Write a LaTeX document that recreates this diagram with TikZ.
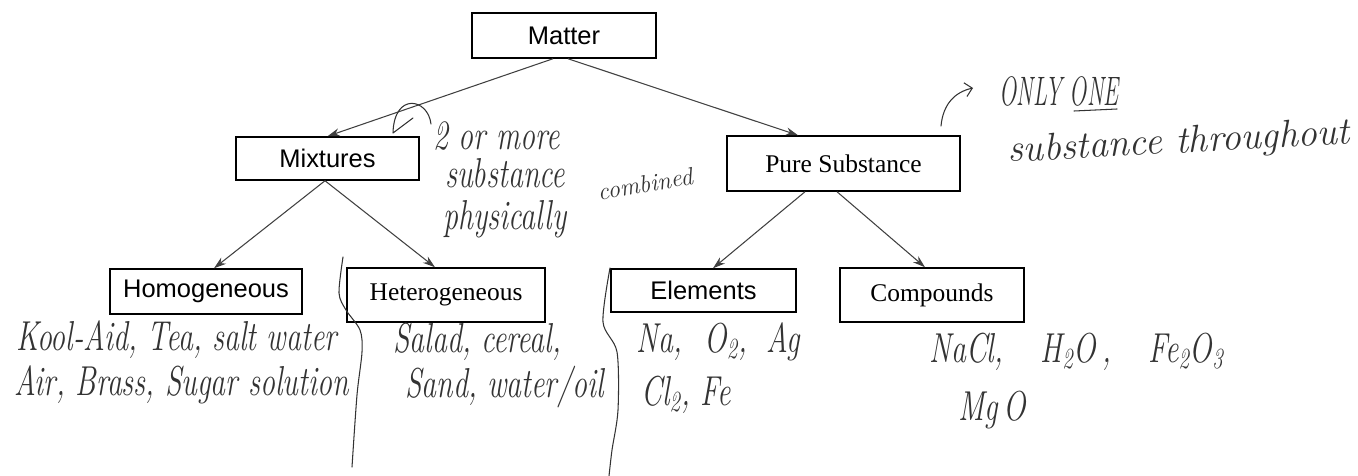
\documentclass[tikz,border=0pt]{standalone}
\usepackage{fontspec}
\usetikzlibrary{arrows.meta}
\newfontfamily\arialfont{Liberation Sans}
\newfontfamily\timesfont{Liberation Serif}
\newcommand{\tallhand}[1]{\scalebox{1}[1.4]{#1}}

\tikzset{
  sansbox/.style={draw, line width=0.85pt, inner sep=0pt,
    font=\arialfont\fontsize{14.5}{17}\selectfont},
  serifbox/.style={draw, line width=0.85pt, inner sep=0pt,
    font=\timesfont\fontsize{14.5}{17}\selectfont},
  link/.style={draw=black!75, line width=0.6pt, -{Stealth[length=7pt,width=4.5pt]}},
  hand/.style={text=black!80, inner sep=0pt, anchor=base west,
    font=\itshape\fontsize{17}{20}\selectfont},
  pen/.style={draw=black!80, line width=0.6pt, line cap=round, line join=round}
}

\begin{document}
\begin{tikzpicture}[x=0.02cm, y=-0.02cm]
    \useasboundingbox (0,0) rectangle (1358,476);

    % 1. The printed boxes
    \node[sansbox, minimum width=3.68cm, minimum height=0.9cm] (matter) at (564,35.5) {Matter};
    \node[sansbox, minimum width=3.66cm, minimum height=0.86cm] (mixtures) at (327.5,158.5) {Mixtures};
    \node[serifbox, minimum width=4.66cm, minimum height=1.1cm] (pure) at (843.5,163.5) {Pure Substance};
    \node[sansbox, minimum width=3.84cm, minimum height=0.9cm] (homog) at (206,291.5) {Homogeneous};
    \node[serifbox, minimum width=3.96cm, minimum height=1.08cm] (heterog) at (446,295) {Heterogeneous};
    \node[sansbox, minimum width=3.7cm, minimum height=0.86cm] (elements) at (703.5,290.5) {Elements};
    \node[serifbox, minimum width=3.68cm, minimum height=1.08cm] (compounds) at (932,295) {Compounds};

    % 2. Arrows of the tree
    \draw[link] ([xshift=-0.22cm]matter.south) -- (mixtures.north);
    \draw[link] ([xshift=0.08cm]matter.south) -- ([xshift=-0.91cm]pure.north);
    \draw[link] ([xshift=-0.05cm]mixtures.south) -- ([xshift=0.16cm]homog.north);
    \draw[link] ([xshift=-0.05cm]mixtures.south) -- ([xshift=-0.22cm]heterog.north);
    \draw[link] ([xshift=-0.77cm]pure.south) -- ([xshift=0.19cm]elements.north);
    \draw[link] ([xshift=-0.13cm]pure.south) -- ([xshift=-0.14cm]compounds.north);

    % 3. Handwritten notes
    \node[hand] (note1) at (433,150) {\tallhand{2 or more}};
    \node[hand] (note2) at (445,188) {\tallhand{substance}};
    \node[hand] (note3) at (443,230) {\tallhand{physically}};
    \node[hand, anchor=center, rotate=10, font=\itshape\fontsize{14}{17}\selectfont] (note4) at (645,184) {combined};
    \draw[pen] (431,124) .. controls (428,98) and (394,92) .. (393,133) -- (413,118);

    \node[hand, font=\itshape\fontsize{13}{16}\selectfont] (only) at (999,106) {\scalebox{1}[1.8]{ONLY ONE}};
    \draw[pen] (1074,111) -- (1117,109);
    \node[hand, rotate=3, font=\itshape\fontsize{22}{26}\selectfont] (throughout) at (1008,162) {substance throughout};
    \draw[pen, -{Straight Barb[length=4pt]}] (941,126) .. controls (943,104) and (955,92) .. (973,88);

    \node[hand] (ex1) at (16,350) {\tallhand{Kool-Aid, Tea, salt water}};
    \node[hand] (ex2) at (14,395) {\tallhand{Air, Brass, Sugar solution}};
    \node[hand] (ex3) at (393,352) {\tallhand{Salad, cereal,}};
    \node[hand] (ex4) at (405,397) {\tallhand{Sand, water/oil}};
    \node[hand] (ex5) at (636,352) {\tallhand{Na,\hspace{0.4em} O\textsubscript{2},\hspace{0.3em} Ag}};
    \node[hand] (ex6) at (641,405) {\tallhand{Cl\textsubscript{2}, Fe}};
    \node[hand] (ex7) at (929,362) {\tallhand{NaCl,\hspace{0.9em} H\textsubscript{2}O\hspace{0.2em},\hspace{0.9em} Fe\textsubscript{2}O\textsubscript{3}}};
    \node[hand] (ex8) at (958,420) {\tallhand{Mg\hspace{0.2em}O}};

    % 4. Hand-drawn dividers
    \draw[pen] plot[smooth] coordinates {(343,257) (339,293) (346,310) (360,330) (362,352) (357,395) (352,467)};
    \draw[pen] plot[smooth] coordinates {(610,268) (603,322) (617,352) (618,410) (612,450) (609,476)};

\end{tikzpicture}
\end{document}
